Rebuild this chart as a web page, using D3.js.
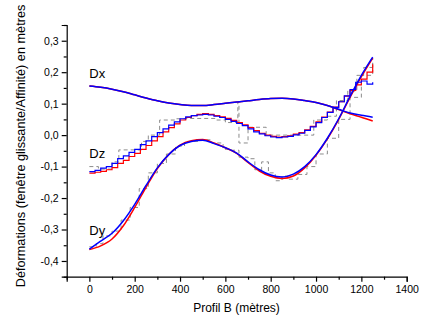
<!DOCTYPE html>
<html><head><meta charset="utf-8">
<script src="https://cdn.jsdelivr.net/npm/d3@7/dist/d3.min.js"></script>
<style>
html,body{margin:0;padding:0;background:#fff;}
svg{display:block;font-family:"Liberation Sans",Arial,sans-serif;}
</style></head>
<body>
<svg id="chart" width="421" height="322"></svg>
<script>
// ---- data ----
const xs50 = [0,50,100,150,200,250,300,350,400,450,500,550,600,650,700,750,800,850,900,950,1000,1050,1100,1150,1200,1250];
const dxBlue = [0.156,0.152,0.146,0.138,0.128,0.118,0.109,0.102,0.097,0.094,0.094,0.097,0.101,0.105,0.109,0.113,0.116,0.117,0.115,0.110,0.104,0.094,0.082,0.070,0.063,0.057];
const dxRed  = [0.156,0.152,0.146,0.138,0.128,0.118,0.109,0.102,0.097,0.094,0.094,0.097,0.101,0.105,0.109,0.113,0.116,0.117,0.115,0.110,0.104,0.094,0.081,0.068,0.057,0.045];
const dyBlue = [-0.362,-0.337,-0.312,-0.272,-0.220,-0.160,-0.104,-0.062,-0.033,-0.020,-0.016,-0.027,-0.040,-0.057,-0.085,-0.110,-0.127,-0.133,-0.124,-0.100,-0.062,-0.010,0.052,0.123,0.190,0.248];
const dyRed  = [-0.364,-0.352,-0.330,-0.288,-0.230,-0.166,-0.106,-0.062,-0.032,-0.018,-0.014,-0.025,-0.040,-0.058,-0.087,-0.114,-0.131,-0.138,-0.130,-0.104,-0.064,-0.012,0.050,0.120,0.186,0.245];
const xs25 = [0,25,50,75,100,125,150,175,200,225,250,275,300,325,350,375,400,425,450,475,500,525,550,575,600,625,650,675,700,725,750,775,800,825,850,875,900,925,950,975,1000,1025,1050,1075,1100,1125,1150,1175,1200,1225,1250];
const dzBlue = [-0.116,-0.112,-0.105,-0.100,-0.090,-0.075,-0.066,-0.055,-0.045,-0.030,-0.018,-0.005,0.008,0.020,0.032,0.042,0.052,0.058,0.062,0.064,0.066,0.064,0.060,0.056,0.050,0.044,0.037,0.030,0.020,0.010,0.004,-0.002,-0.006,-0.008,-0.006,-0.004,0.001,0.006,0.015,0.026,0.040,0.056,0.072,0.088,0.106,0.125,0.145,0.168,0.172,0.162,0.168];
const dzRed  = [-0.121,-0.118,-0.115,-0.110,-0.103,-0.090,-0.080,-0.068,-0.058,-0.045,-0.033,-0.018,-0.005,0.010,0.024,0.036,0.048,0.056,0.062,0.066,0.068,0.066,0.062,0.058,0.053,0.047,0.040,0.033,0.024,0.014,0.006,0.000,-0.004,-0.006,-0.005,-0.002,0.003,0.008,0.017,0.028,0.042,0.057,0.073,0.089,0.106,0.124,0.142,0.160,0.178,0.200,0.225];
const rawDzX = [0,40,100,130,230,260,310,380,430,560,600,655,660,700,780,900,930,990,1050,1090,1140,1180,1210,1250];
const rawDzY = [-0.100,-0.108,-0.085,-0.047,-0.020,0.000,0.048,0.052,0.053,0.048,0.040,0.105,-0.025,0.025,0.000,0.000,0.000,0.048,0.060,0.110,0.140,0.190,0.215,0.230];
const rawDyX = [0,30,60,100,140,180,220,260,300,340,380,420,480,540,590,620,660,700,730,760,790,820,850,880,920,960,1000,1050,1100,1150,1200,1250];
const rawDyY = [-0.355,-0.345,-0.320,-0.305,-0.270,-0.230,-0.170,-0.120,-0.090,-0.060,-0.035,-0.020,-0.015,-0.025,-0.045,-0.048,-0.070,-0.075,-0.110,-0.085,-0.120,-0.145,-0.130,-0.140,-0.125,-0.100,-0.060,-0.010,0.050,0.120,0.190,0.245];
const xMajor = [0,200,400,600,800,1000,1200,1400];
const xMinor = [-100,100,300,500,700,900,1100,1300];
const yMajor = [-0.4,-0.3,-0.2,-0.1,0.0,0.1,0.2,0.3];
const yMinor = [-0.45,-0.35,-0.25,-0.15,-0.05,0.05,0.15,0.25,0.35];
const seriesLabels = [{t:"Dx",v:0.180},{t:"Dz",v:-0.074},{t:"Dy",v:-0.319}];

// ---- chart ----
const svg = d3.select("#chart");
const x = d3.scaleLinear().domain([-100,1400]).range([66.7,406.7]);
const y = d3.scaleLinear().domain([-0.45,0.35]).range([276.7,25]);
const fmt = v => v.toFixed(1).replace(".", ",");

// axes
const gx = svg.append("g").attr("transform","translate(0,276.7)");
gx.call(d3.axisBottom(x).tickValues(xMajor).tickSize(5).tickPadding(4).tickFormat(d3.format("d")));
const gxm = svg.append("g").attr("transform","translate(0,276.7)");
gxm.call(d3.axisBottom(x).tickValues(xMinor).tickSize(3).tickFormat(""));
const gy = svg.append("g").attr("transform","translate(66.7,0)");
gy.call(d3.axisLeft(y).tickValues(yMajor).tickSize(5).tickPadding(3).tickFormat(fmt));
const gym = svg.append("g").attr("transform","translate(66.7,0)");
gym.call(d3.axisLeft(y).tickValues(yMinor).tickSize(3).tickFormat(""));
[gx,gxm,gy,gym].forEach(g=>{
  g.select(".domain").attr("stroke","#000").attr("stroke-width",1.2);
  g.selectAll(".tick line").attr("stroke","#000").attr("stroke-width",1.2);
  g.selectAll("text").attr("font-size","10.5px").attr("fill","#000").attr("font-family","'Liberation Sans',Arial,sans-serif");
});
gxm.select(".domain").remove(); gym.select(".domain").remove();

// titles
svg.append("text").attr("x",236.5).attr("y",312).attr("text-anchor","middle")
  .attr("font-size","12px").text("Profil B (mètres)");
svg.append("text").attr("transform","translate(24.5,146) rotate(-90)").attr("text-anchor","middle")
  .attr("font-size","12.7px").text("Déformations (fenêtre glissante/Affinité) en mètres");

// lines
const smooth = d3.line().x((d)=>x(d[0])).y(d=>y(d[1])).curve(d3.curveMonotoneX);
const stepL = d3.line().x((d)=>x(d[0])).y(d=>y(d[1])).curve(d3.curveStepAfter);
const zip = (a,b)=>a.map((v,i)=>[v,b[i]]);

const plot = svg.append("g");
plot.append("path").attr("d",stepL(zip(rawDyX,rawDyY))).attr("fill","none").attr("stroke","#8c8c8c").attr("stroke-width",1).attr("stroke-dasharray","4,3");
plot.append("path").attr("d",stepL(zip(rawDzX,rawDzY))).attr("fill","none").attr("stroke","#8c8c8c").attr("stroke-width",1).attr("stroke-dasharray","4,3");

plot.append("path").attr("d",smooth(zip(xs50,dxRed))).attr("fill","none").attr("stroke","#ff0000").attr("stroke-width",1.5);
plot.append("path").attr("d",smooth(zip(xs50,dyRed))).attr("fill","none").attr("stroke","#ff0000").attr("stroke-width",1.5);
plot.append("path").attr("d",stepL(zip(xs25,dzRed))).attr("fill","none").attr("stroke","#ff0000").attr("stroke-width",1.2);
plot.append("path").attr("d",smooth(zip(xs50,dxBlue))).attr("fill","none").attr("stroke","#0000ff").attr("stroke-width",1.5);
plot.append("path").attr("d",smooth(zip(xs50,dyBlue))).attr("fill","none").attr("stroke","#0000ff").attr("stroke-width",1.5);
plot.append("path").attr("d",stepL(zip(xs25,dzBlue))).attr("fill","none").attr("stroke","#0000ff").attr("stroke-width",1.2);

// series labels
svg.append("g").selectAll("text").data(seriesLabels).join("text")
  .attr("x",x(0)).attr("y",d=>y(d.v)).attr("font-size","13px").attr("fill","#000").text(d=>d.t);
</script>
</body></html>
